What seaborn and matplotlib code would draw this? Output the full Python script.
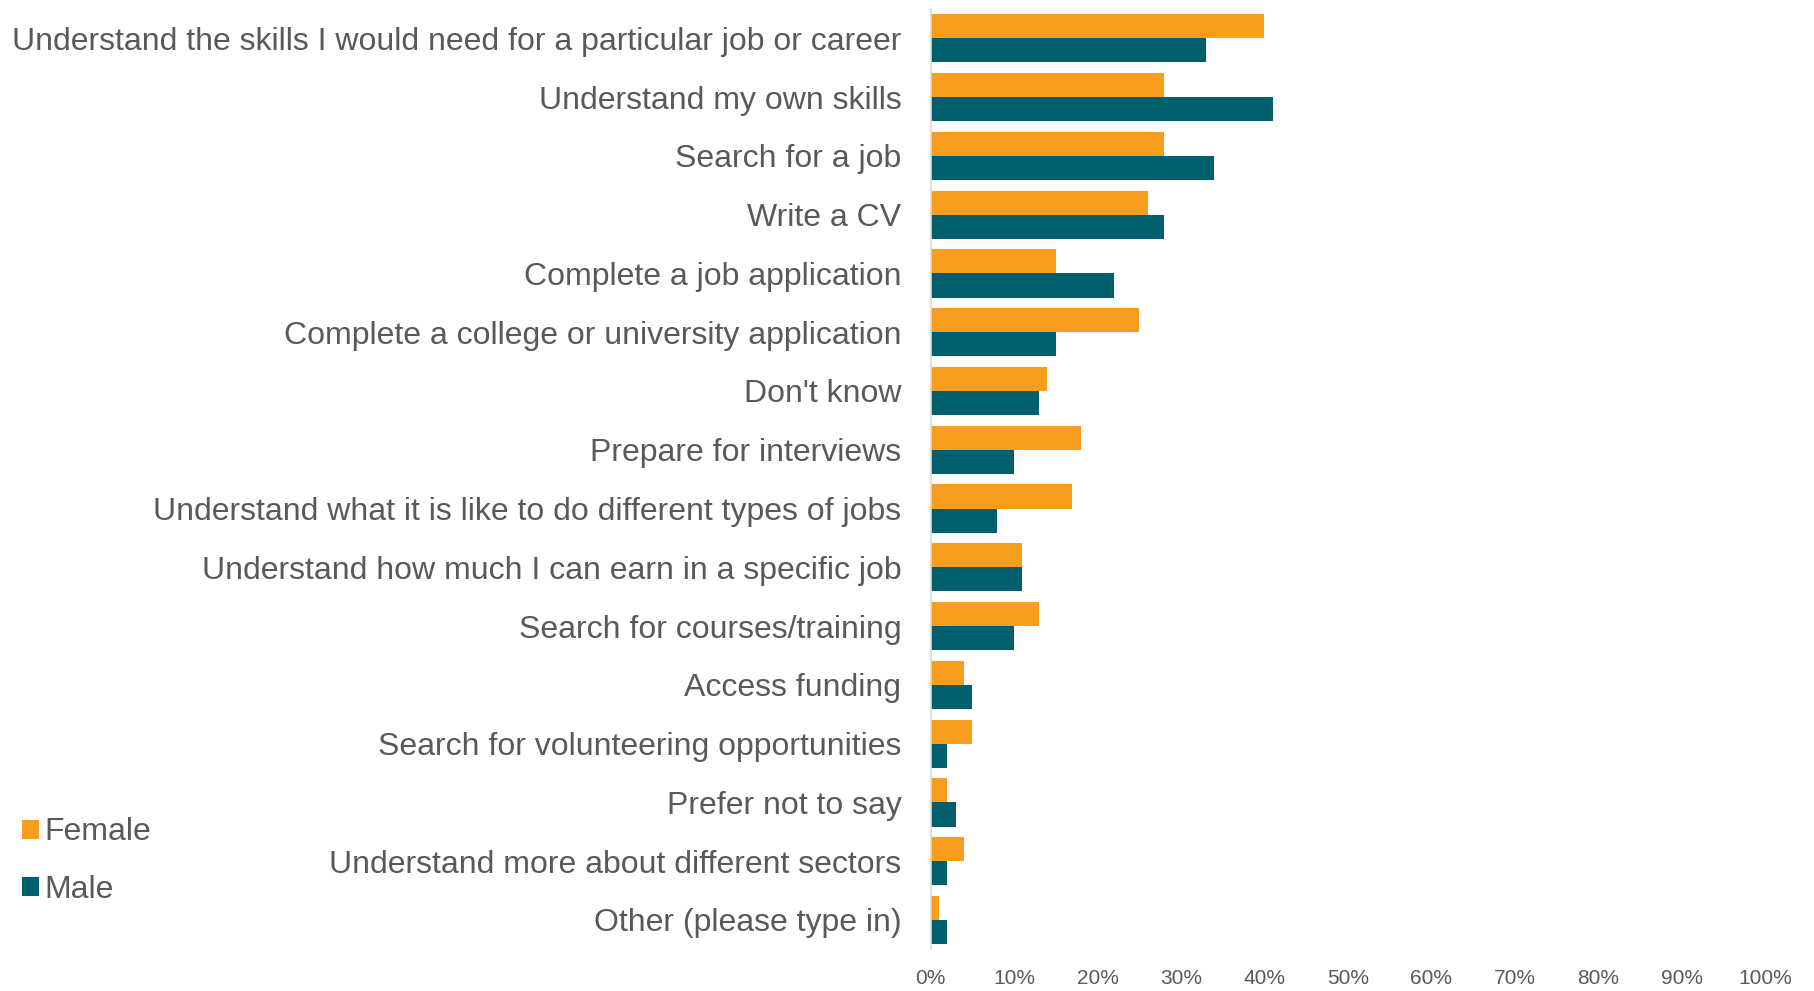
import matplotlib
matplotlib.use("Agg")
import matplotlib.pyplot as plt
import seaborn as sns
import pandas as pd
from matplotlib.patches import Patch
from matplotlib.ticker import PercentFormatter

categories = [
    "Understand the skills I would need for a particular job or career",
    "Understand my own skills",
    "Search for a job",
    "Write a CV",
    "Complete a job application",
    "Complete a college or university application",
    "Don't know",
    "Prepare for interviews",
    "Understand what it is like to do different types of jobs",
    "Understand how much I can earn in a specific job",
    "Search for courses/training",
    "Access funding",
    "Search for volunteering opportunities",
    "Prefer not to say",
    "Understand more about different sectors",
    "Other (please type in)",
]
female = [40, 28, 28, 26, 15, 25, 14, 18, 17, 11, 13, 4, 5, 2, 4, 1]
male = [33, 41, 34, 28, 22, 15, 13, 10, 8, 11, 10, 5, 2, 3, 2, 2]
series = ["Female", "Male"]
colors = {"Female": "#F99D1F", "Male": "#005F6E"}
xticks = [0, 10, 20, 30, 40, 50, 60, 70, 80, 90, 100]

df = pd.DataFrame({"Category": categories, "Female": female, "Male": male})
long = df.melt(id_vars="Category", value_vars=series, var_name="Sex", value_name="Pct")

sns.set_theme(style="white")
plt.rcParams["font.family"] = ["Liberation Sans", "DejaVu Sans"]

fig = plt.figure(figsize=(18.14, 9.91), dpi=100)
ax = fig.add_axes([0.513, 0.042, 0.46, 0.949])

sns.barplot(data=long, y="Category", x="Pct", hue="Sex", order=categories,
            hue_order=series, palette=colors, orient="h", width=0.82,
            ax=ax, legend=False, saturation=1, linewidth=0)

ax.set_xlim(0, 100)
ax.set_ylim(len(categories) - 0.5, -0.5)
ax.set_xticks(xticks)
ax.xaxis.set_major_formatter(PercentFormatter(decimals=0))
ax.set_xlabel("")
ax.set_ylabel("")
for s in ["top", "right", "bottom"]:
    ax.spines[s].set_visible(False)
ax.spines["left"].set_color("#D9D9D9")
ax.spines["left"].set_linewidth(1.2)
ax.tick_params(axis="y", length=0, pad=21, labelsize=23, labelcolor="#595959")
ax.tick_params(axis="x", length=0, pad=14, labelsize=15, labelcolor="#595959")

handles = [Patch(facecolor=colors[s], edgecolor="none") for s in series]
fig.legend(handles, series, loc="upper left", bbox_to_anchor=(0.005, 0.188),
           bbox_transform=fig.transFigure, frameon=False, fontsize=23,
           handlelength=0.55, handleheight=0.55, handletextpad=0.15,
           labelspacing=0.85, labelcolor="#595959", borderaxespad=0)

fig.savefig("out.png", dpi=100)
